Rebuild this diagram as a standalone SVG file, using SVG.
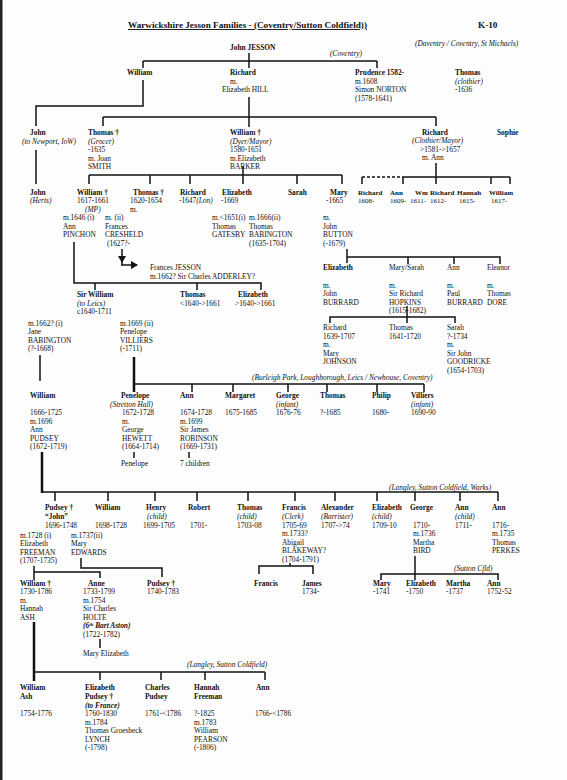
<svg xmlns="http://www.w3.org/2000/svg" width="567" height="780" viewBox="0 0 567 780">
<style>
text{font-family:"Liberation Serif","Times New Roman",serif;font-size:7.4px;fill:#111}
.b{font-weight:bold}
.i{font-style:italic}
.s{font-size:7px}
.h{font-size:9.2px;font-weight:bold}
#conn line,#conn path{stroke:#111;stroke-width:1.5;fill:none}
#conn .k{stroke-width:2.5}
#conn .d{stroke-dasharray:3,2}
</style>
<defs>
<marker id="ah" markerWidth="8" markerHeight="8" refX="6" refY="4" orient="auto" markerUnits="userSpaceOnUse"><path d="M0,0 L7,4 L0,8 z" fill="#111"/></marker>
</defs>
<rect width="567" height="780" fill="#fdfdfd"/>
<rect x="0" y="0" width="2.5" height="780" fill="#222"/>

<g id="header">
<text class="h" x="128" y="28" text-decoration="underline">Warwickshire Jesson Families - (Coventry/Sutton Coldfield))</text>
<text class="h" x="478" y="28">K-10</text>
<text class="i" x="415" y="46">(Daventry / Coventry, St Michaels)</text>
<text class="i" x="330" y="56">(Coventry)</text>
<text class="i" x="252" y="380">(Burleigh Park, Loughborough, Leics / Newhouse, Coventry)</text>
<text class="i" x="389" y="490">(Langley, Sutton Coldfield, Warks)</text>
<text class="i" x="454" y="571">(Sutton Cfld)</text>
<text class="i" x="187" y="667">(Langley, Sutton Coldfield)</text>
</g>

<g id="conn">
<line x1="249" y1="53" x2="249" y2="68"/>
<line x1="143" y1="61" x2="377" y2="61"/>
<line x1="143" y1="61" x2="143" y2="68"/>
<line x1="377" y1="61" x2="377" y2="68"/>
<path d="M143,80 V106 H36 V126"/>
<line x1="249" y1="97" x2="249" y2="127"/>
<line x1="103" y1="117" x2="436" y2="117"/>
<line x1="103" y1="117" x2="103" y2="126"/>
<line x1="436" y1="117" x2="436" y2="126"/>
<line x1="36" y1="150" x2="36" y2="184"/>
<line x1="89" y1="175" x2="342" y2="175"/>
<line x1="89" y1="175" x2="89" y2="184"/>
<line x1="150" y1="175" x2="150" y2="184"/>
<line x1="190" y1="175" x2="190" y2="184"/>
<line x1="243" y1="166" x2="243" y2="184"/>
<line x1="297" y1="175" x2="297" y2="184"/>
<line x1="342" y1="175" x2="342" y2="184"/>
<line class="d" x1="362" y1="177" x2="403" y2="177"/>
<line x1="362" y1="177" x2="362" y2="184"/>
<line x1="403" y1="177" x2="510" y2="177"/>
<line x1="403" y1="177" x2="403" y2="184"/>
<line x1="436" y1="163" x2="436" y2="184"/>
<line x1="491" y1="177" x2="491" y2="184"/>
<line x1="510" y1="177" x2="510" y2="184"/>
<line x1="122" y1="249" x2="122" y2="262" marker-end="url(#ah)"/>
<line x1="122" y1="262" x2="122" y2="265"/>
<line x1="121" y1="265" x2="137" y2="265" marker-end="url(#ah)"/>
<path d="M74,242 V283 H261 V290"/>
<line x1="95" y1="283" x2="95" y2="290"/>
<line x1="197" y1="283" x2="197" y2="290"/>
<path d="M347,249 V263"/>
<path d="M347,257 H500 V264"/>
<line x1="408" y1="257" x2="408" y2="264"/>
<line x1="454" y1="257" x2="454" y2="264"/>
<line x1="407" y1="306" x2="407" y2="323"/>
<path d="M330,323 V317 H455 V323"/>
<line x1="40" y1="355" x2="40" y2="381"/>
<line class="k" x1="134" y1="357" x2="134" y2="392"/>
<line x1="134" y1="384" x2="424" y2="384"/>
<line x1="192" y1="384" x2="192" y2="392"/>
<line x1="233" y1="384" x2="233" y2="392"/>
<line x1="288" y1="384" x2="288" y2="392"/>
<line x1="327" y1="384" x2="327" y2="392"/>
<line x1="377" y1="384" x2="377" y2="392"/>
<line x1="424" y1="384" x2="424" y2="392"/>
<line x1="134" y1="452" x2="134" y2="458"/>
<line x1="189" y1="452" x2="189" y2="458"/>
<line class="k" x1="42" y1="452" x2="42" y2="493"/>
<line x1="42" y1="492" x2="498" y2="492"/>
<line x1="55" y1="492" x2="55" y2="501"/>
<line x1="108" y1="492" x2="108" y2="501"/>
<line x1="155" y1="492" x2="155" y2="501"/>
<line x1="197" y1="492" x2="197" y2="501"/>
<line x1="248" y1="492" x2="248" y2="501"/>
<line x1="295" y1="492" x2="295" y2="501"/>
<line x1="335" y1="492" x2="335" y2="501"/>
<line x1="377" y1="492" x2="377" y2="501"/>
<line x1="415" y1="492" x2="415" y2="501"/>
<line x1="460" y1="492" x2="460" y2="501"/>
<line x1="498" y1="492" x2="498" y2="501"/>
<path d="M34,566 V580"/>
<path d="M34,572 H100 V578"/>
<path d="M81,558 V568 H162 V577"/>
<line x1="290" y1="563" x2="290" y2="566"/>
<path d="M259,574 V566 H313 V574"/>
<line x1="415" y1="556" x2="415" y2="580"/>
<path d="M381,580 V574 H498 V580"/>
<line x1="100" y1="639" x2="100" y2="648"/>
<line class="k" x1="34" y1="622" x2="34" y2="681"/>
<line x1="34" y1="672" x2="265" y2="672"/>
<line x1="100" y1="672" x2="100" y2="680"/>
<line x1="161" y1="672" x2="161" y2="680"/>
<line x1="205" y1="672" x2="205" y2="680"/>
<line x1="265" y1="672" x2="265" y2="680"/>
</g>

<g id="john-jesson"><text class="b" x="230" y="50">John JESSON</text></g>

<g id="william-1"><text class="b" x="127" y="75">William</text></g>
<g id="richard-1"><text class="b" x="230" y="75">Richard</text><text x="230" y="84">m.</text><text x="222" y="92">Elizabeth HILL</text></g>
<g id="prudence"><text class="b" x="355" y="75">Prudence 1582-</text><text x="355" y="84">m.1608</text><text x="355" y="92">Simon NORTON</text><text x="355" y="101">(1578-1641)</text></g>
<g id="thomas-clothier"><text class="b" x="455" y="75">Thomas</text><text class="i" x="455" y="83.5">(clothier)</text><text x="455" y="92">-1636</text></g>

<g id="john-2"><text class="b" x="30" y="135">John</text><text class="i" x="22" y="143.5">(to Newport, IoW)</text></g>
<g id="thomas-grocer"><text class="b" x="88" y="135">Thomas †</text><text class="i" x="88" y="143.5">(Grocer)</text><text x="88" y="152">-1635</text><text x="88" y="160.5">m. Joan</text><text x="88" y="169">SMITH</text></g>
<g id="william-dyer"><text class="b" x="230" y="135">William †</text><text class="i" x="230" y="143.5">(Dyer/Mayor)</text><text x="230" y="152">1580-1651</text><text x="230" y="160.5">m.Elizabeth</text><text x="230" y="169">BARKER</text></g>
<g id="richard-clothier"><text class="b" x="422" y="135">Richard</text><text class="i" x="412" y="143">(Clothier/Mayor)</text><text x="420" y="151.5">&gt;1581-&gt;1657</text><text x="422" y="160">m. Ann</text></g>
<g id="sophie"><text class="b" x="497" y="135">Sophie</text></g>

<g id="john-herts"><text class="b" x="30" y="194.5">John</text><text class="i" x="30" y="203">(Herts)</text></g>
<g id="william-mp"><text class="b" x="77" y="194.5">William †</text><text x="77" y="203">1617-1661</text><text class="i" x="85" y="211.5">(MP)</text><text x="63" y="220">m.1646 (i)</text><text x="63" y="228.5">Ann</text><text x="63" y="237">PINCHON</text></g>
<g id="frances-cresheld"><text x="105" y="220">m. (ii)</text><text x="105" y="228.5">Frances</text><text x="105" y="237">CRESHELD</text><text x="107" y="245.5">(1627?-</text></g>
<g id="thomas-3"><text class="b" x="133" y="194.5">Thomas †</text><text x="130" y="203">1620-1654</text><text x="130" y="211.5">m.</text></g>
<g id="richard-3"><text class="b" x="180" y="194.5">Richard</text><text x="179" y="203">-1647<tspan class="i">(Lon)</tspan></text></g>
<g id="elizabeth-3"><text class="b" x="222" y="194.5">Elizabeth</text><text x="221" y="203">-1669</text><text x="212" y="220">m.&lt;1651(i)</text><text x="212" y="228.5">Thomas</text><text x="212" y="237">GATESBY</text><text x="249" y="220">m.1666(ii)</text><text x="249" y="228.5">Thomas</text><text x="249" y="237">BABINGTON</text><text x="249" y="245.5">(1635-1704)</text></g>
<g id="sarah-3"><text class="b" x="288" y="194.5">Sarah</text></g>
<g id="mary-3"><text class="b" x="330" y="194.5">Mary</text><text x="326" y="203">-1665</text><text x="323" y="220">m.</text><text x="323" y="228.5">John</text><text x="323" y="237">BUTTON</text><text x="323" y="245.5">(-1679)</text></g>
<g id="richard-kids"><text class="b s" x="358" y="194.5">Richard</text><text class="s" x="358" y="203">1608-</text><text class="b s" x="390" y="194.5">Ann</text><text class="s" x="390" y="203">1609-</text><text class="b s" x="415" y="194.5">Wm</text><text class="s" x="410" y="203">1611-</text><text class="b s" x="430" y="194.5">Richard</text><text class="s" x="430" y="203">1612-</text><text class="b s" x="457" y="194.5">Hannah</text><text class="s" x="459" y="203">1615-</text><text class="b s" x="489" y="194.5">William</text><text class="s" x="491" y="203">1617-</text></g>

<g id="frances-jesson"><text x="150" y="270">Frances JESSON</text><text x="150" y="278.5">m.1662? Sir Charles ADDERLEY?</text></g>

<g id="sir-william"><text class="b" x="77" y="297">Sir William</text><text class="i" x="77" y="305.5">(to Leics)</text><text x="77" y="314">c1640-1711</text></g>
<g id="thomas-4"><text class="b" x="180" y="297">Thomas</text><text x="180" y="305.5">&lt;1640-&gt;1661</text></g>
<g id="elizabeth-4"><text class="b" x="238" y="297">Elizabeth</text><text x="235" y="305.5">&gt;1640-&gt;1661</text></g>
<g id="jane-babington"><text x="28" y="325.5">m.1662? (i)</text><text x="28" y="334">Jane</text><text x="28" y="342.5">BABINGTON</text><text x="28" y="351">(?-1668)</text></g>
<g id="penelope-villiers"><text x="120" y="325.5">m.1669 (ii)</text><text x="120" y="334">Penelope</text><text x="120" y="342.5">VILLIERS</text><text x="120" y="351">(-1711)</text></g>

<g id="elizabeth-button"><text class="b" x="323" y="270">Elizabeth</text><text x="323" y="287.5">m.</text><text x="323" y="296">John</text><text x="323" y="304.5">BURRARD</text></g>
<g id="mary-sarah"><text x="389" y="270">Mary/Sarah</text><text x="389" y="287.5">m.</text><text x="389" y="296">Sir Richard</text><text x="389" y="304.5">HOPKINS</text><text x="389" y="313">(1615-1682)</text></g>
<g id="ann-burrard"><text x="447" y="270">Ann</text><text x="447" y="287.5">m.</text><text x="447" y="296">Paul</text><text x="447" y="304.5">BURRARD</text></g>
<g id="eleanor"><text x="487" y="270">Eleanor</text><text x="487" y="287.5">m.</text><text x="487" y="296">Thomas</text><text x="487" y="304.5">DORE</text></g>
<g id="richard-hopkins"><text x="323" y="330">Richard</text><text x="323" y="338.5">1639-1707</text><text x="323" y="347">m.</text><text x="323" y="355.5">Mary</text><text x="323" y="364">JOHNSON</text></g>
<g id="thomas-hopkins"><text x="389" y="330">Thomas</text><text x="389" y="338.5">1641-1720</text></g>
<g id="sarah-hopkins"><text x="447" y="330">Sarah</text><text x="447" y="338.5">?-1734</text><text x="447" y="347">m.</text><text x="447" y="355.5">Sir John</text><text x="447" y="364">GOODRICKE</text><text x="447" y="372.5">(1654-1703)</text></g>

<g id="william-5"><text class="b" x="30" y="398">William</text><text x="30" y="415">1666-1725</text><text x="30" y="423.5">m.1696</text><text x="30" y="432">Ann</text><text x="30" y="440.5">PUDSEY</text><text x="30" y="449">(1672-1719)</text></g>
<g id="penelope-5"><text class="b" x="121" y="398">Penelope</text><text class="i" x="110" y="406.5">(Stretton Hall)</text><text x="122" y="415">1672-1728</text><text x="122" y="423.5">m.</text><text x="122" y="432">George</text><text x="122" y="440.5">HEWETT</text><text x="122" y="449">(1664-1714)</text><text x="121" y="466">Penelope</text></g>
<g id="ann-5"><text class="b" x="180" y="398">Ann</text><text x="180" y="415">1674-1728</text><text x="180" y="423.5">m.1699</text><text x="180" y="432">Sir James</text><text x="180" y="440.5">ROBINSON</text><text x="180" y="449">(1669-1731)</text><text x="180" y="466">7 children</text></g>
<g id="margaret-5"><text class="b" x="225" y="398">Margaret</text><text x="225" y="415">1675-1685</text></g>
<g id="george-5"><text class="b" x="276" y="398">George</text><text class="i" x="276" y="406.5">(infant)</text><text x="276" y="415">1676-76</text></g>
<g id="thomas-5"><text class="b" x="320" y="398">Thomas</text><text x="320" y="415">?-1685</text></g>
<g id="philip-5"><text class="b" x="372" y="398">Philip</text><text x="372" y="415">1680-</text></g>
<g id="villiers-5"><text class="b" x="411" y="398">Villiers</text><text class="i" x="411" y="406.5">(infant)</text><text x="411" y="415">1690-90</text></g>

<g id="pudsey-john"><text class="b" x="45" y="510">Pudsey †</text><text class="b" x="45" y="518.5">“John”</text><text x="45" y="527.5">1696-1748</text><text x="20" y="537.5">m.1728 (i)</text><text x="20" y="546">Elizabeth</text><text x="20" y="554.5">FREEMAN</text><text x="20" y="563">(1707-1735)</text><text x="71" y="537.5">m.1737(ii)</text><text x="71" y="546">Mary</text><text x="71" y="554.5">EDWARDS</text></g>
<g id="william-6"><text class="b" x="95" y="510">William</text><text x="95" y="527.5">1698-1728</text></g>
<g id="henry-6"><text class="b" x="146" y="510">Henry</text><text class="i" x="147" y="518.5">(child)</text><text x="143" y="527.5">1699-1705</text></g>
<g id="robert-6"><text class="b" x="188" y="510">Robert</text><text x="190" y="527.5">1701-</text></g>
<g id="thomas-6"><text class="b" x="237" y="510">Thomas</text><text class="i" x="237" y="518.5">(child)</text><text x="237" y="527.5">1703-08</text></g>
<g id="francis-6"><text class="b" x="282" y="510">Francis</text><text class="i" x="282" y="518.5">(Clerk)</text><text x="282" y="527.5">1705-69</text><text x="282" y="536">m.1733?</text><text x="282" y="544.5">Abigail</text><text x="282" y="553">BLAKEWAY?</text><text x="282" y="561.5">(1704-1791)</text></g>
<g id="alexander-6"><text class="b" x="321" y="510">Alexander</text><text class="i" x="321" y="518.5">(Barrister)</text><text x="321" y="527.5">1707-&gt;74</text></g>
<g id="elizabeth-6"><text class="b" x="372" y="510">Elizabeth</text><text class="i" x="372" y="518.5">(child)</text><text x="372" y="527.5">1709-10</text></g>
<g id="george-6"><text class="b" x="410" y="510">George</text><text x="413" y="527.5">1710-</text><text x="413" y="536">m.1736</text><text x="413" y="544.5">Martha</text><text x="413" y="553">BIRD</text></g>
<g id="ann-child-6"><text class="b" x="455" y="510">Ann</text><text class="i" x="455" y="518.5">(child)</text><text x="455" y="527.5">1711-</text></g>
<g id="ann-6"><text class="b" x="492" y="510">Ann</text><text x="492" y="527.5">1716-</text><text x="492" y="536">m.1735</text><text x="492" y="544.5">Thomas</text><text x="492" y="553">PERKES</text></g>

<g id="william-7"><text class="b" x="20" y="585.5">William †</text><text x="20" y="594">1730-1786</text><text x="20" y="602.5">m.</text><text x="20" y="611">Hannah</text><text x="20" y="619.5">ASH</text></g>
<g id="anne-7"><text class="b" x="88" y="585.5">Anne</text><text x="83" y="594">1733-1799</text><text x="83" y="602.5">m.1754</text><text x="83" y="611">Sir Charles</text><text x="83" y="619.5">HOLTE</text><text class="b i" x="83" y="628">(6<tspan font-size="5" dy="-2.5">th</tspan><tspan dy="2.5"> Bart Aston)</tspan></text><text x="83" y="636.5">(1722-1782)</text><text x="83" y="655.5">Mary Elizabeth</text></g>
<g id="pudsey-7"><text class="b" x="147" y="585.5">Pudsey †</text><text x="147" y="594">1740-1783</text></g>
<g id="francis-7"><text class="b" x="254" y="585.5">Francis</text></g>
<g id="james-7"><text class="b" x="302" y="585.5">James</text><text x="302" y="594">1734-</text></g>
<g id="mary-7"><text class="b" x="373" y="585.5">Mary</text><text x="373" y="594">-1741</text></g>
<g id="elizabeth-7"><text class="b" x="406" y="585.5">Elizabeth</text><text x="406" y="594">-1750</text></g>
<g id="martha-7"><text class="b" x="446" y="585.5">Martha</text><text x="446" y="594">-1737</text></g>
<g id="ann-7"><text class="b" x="487" y="585.5">Ann</text><text x="487" y="594">1752-52</text></g>

<g id="william-ash"><text class="b" x="20" y="689.5">William</text><text class="b" x="20" y="699">Ash</text><text x="20" y="716">1754-1776</text></g>
<g id="elizabeth-pudsey"><text class="b" x="85" y="689.5">Elizabeth</text><text class="b" x="85" y="699">Pudsey †</text><text class="b i" x="85" y="707.5">(to France)</text><text x="85" y="716">1760-1830</text><text x="85" y="724.5">m.1784</text><text x="85" y="733">Thomas Groesbeck</text><text x="85" y="741.5">LYNCH</text><text x="85" y="750">(-1798)</text></g>
<g id="charles-pudsey"><text class="b" x="145" y="689.5">Charles</text><text class="b" x="145" y="699">Pudsey</text><text x="145" y="716">1761-&lt;1786</text></g>
<g id="hannah-freeman"><text class="b" x="194" y="689.5">Hannah</text><text class="b" x="194" y="699">Freeman</text><text x="194" y="716">?-1825</text><text x="194" y="724.5">m.1783</text><text x="194" y="733">William</text><text x="194" y="741.5">PEARSON</text><text x="194" y="750">(-1806)</text></g>
<g id="ann-8"><text class="b" x="256" y="689.5">Ann</text><text x="255" y="716">1766-&lt;1786</text></g>
</svg>
